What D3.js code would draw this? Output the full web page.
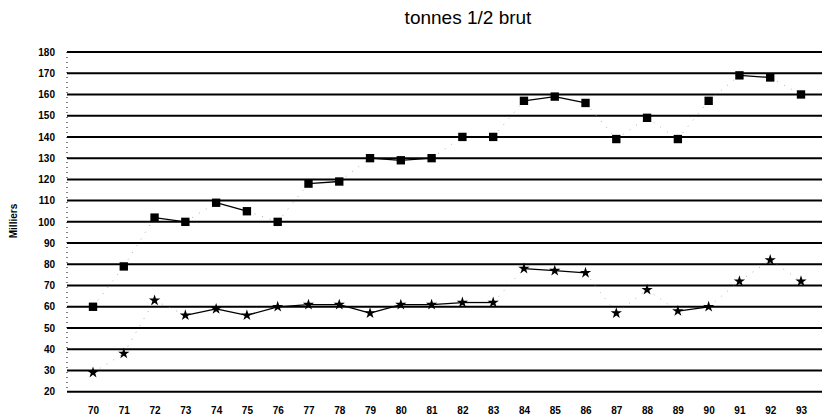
<!DOCTYPE html>
<html>
<head>
<meta charset="utf-8">
<script src="https://cdn.jsdelivr.net/npm/d3@7"></script>
<style>
  body { margin: 0; background: #fff; }
  svg { display: block; font-family: Arial, "Liberation Sans", sans-serif; }
</style>
</head>
<body>
<svg id="chart"></svg>
<script>
const years = ["70","71","72","73","74","75","76","77","78","79","80","81",
  "82","83","84","85","86","87","88","89","90","91","92","93"];
const squareSeries = [60, 79, 102, 100, 109, 105, 100, 118, 119, 130, 129, 130,
  140, 140, 157, 159, 156, 139, 149, 139, 157, 169, 168, 160];
const starSeries = [29, 38, 63, 56, 59, 56, 60, 61, 61, 57, 61, 61,
  62, 62, 78, 77, 76, 57, 68, 58, 60, 72, 82, 72];
const yTicks = [20, 30, 40, 50, 60, 70, 80, 90, 100, 110, 120, 130, 140, 150, 160, 170, 180];

const W = 825, H = 419;
const margin = { top: 52, right: 3, bottom: 27, left: 67 },
  width = W - margin.left - margin.right,
  height = H - margin.top - margin.bottom;

const svg = d3.select("#chart").attr("width", W).attr("height", H);

svg.append("text")
  .attr("x", 468)
  .attr("y", 24)
  .attr("text-anchor", "middle")
  .attr("font-size", "19px")
  .text("tonnes 1/2 brut");

svg.append("text")
  .attr("transform", "translate(17,221) rotate(-90)")
  .attr("text-anchor", "middle")
  .attr("font-size", "10px")
  .attr("font-weight", "bold")
  .text("Milliers");

const g = svg.append("g").attr("transform", `translate(${margin.left},${margin.top})`);

const x = d3.scalePoint().domain(years).range([26, 734]);
const y = d3.scaleLinear().domain([20, 180]).range([height - 0.3, 0]);

// grille
g.append("g")
  .selectAll("line")
  .data(yTicks)
  .enter()
  .append("line")
  .attr("x1", 0)
  .attr("x2", width)
  .attr("y1", (d) => y(d))
  .attr("y2", (d) => y(d))
  .attr("stroke", "#000")
  .attr("stroke-width", 2);

g.append("line")
  .attr("x1", 0).attr("x2", 0)
  .attr("y1", 0).attr("y2", height)
  .attr("stroke", "#000")
  .attr("stroke-width", 1)
  .attr("stroke-dasharray", "1,4");

// axes
const yAxis = g.append("g")
  .call(d3.axisLeft(y).tickValues(yTicks).tickSize(0).tickPadding(12));
yAxis.select(".domain").remove();
yAxis.selectAll("text")
  .attr("font-size", "10px")
  .attr("font-weight", "bold")
  .attr("font-family", "Arial, 'Liberation Sans', sans-serif");

const xAxis = g.append("g")
  .attr("transform", `translate(0,${height})`)
  .call(d3.axisBottom(x).tickSize(0).tickPadding(15));
xAxis.select(".domain").remove();
xAxis.selectAll("text")
  .attr("font-size", "10px")
  .attr("font-weight", "bold")
  .attr("font-family", "Arial, 'Liberation Sans', sans-serif");

// segments : les pentes fortes sont presque effacées sur l'original (photocopie)
function drawSegments(values, cls) {
  const segs = d3.pairs(values.map((v, i) => [years[i], v]));
  g.selectAll("." + cls)
    .data(segs)
    .enter()
    .append("line")
    .attr("class", cls)
    .attr("x1", (d) => x(d[0][0]))
    .attr("y1", (d) => y(d[0][1]))
    .attr("x2", (d) => x(d[1][0]))
    .attr("y2", (d) => y(d[1][1]))
    .attr("stroke", (d) => (Math.abs(d[1][1] - d[0][1]) <= 4 ? "#000" : "#999"))
    .attr("stroke-width", (d) => (Math.abs(d[1][1] - d[0][1]) <= 4 ? 1.3 : 0.8))
    .attr("stroke-dasharray", (d) => (Math.abs(d[1][1] - d[0][1]) <= 4 ? null : "1,7"));
}
drawSegments(squareSeries, "seg-sq");
drawSegments(starSeries, "seg-st");

// marqueurs
g.selectAll(".sq")
  .data(squareSeries)
  .enter()
  .append("path")
  .attr("class", "sq")
  .attr("transform", (d, i) => `translate(${x(years[i])},${y(d)})`)
  .attr("d", d3.symbol(d3.symbolSquare, 70))
  .attr("fill", "#000");

g.selectAll(".st")
  .data(starSeries)
  .enter()
  .append("path")
  .attr("class", "st")
  .attr("transform", (d, i) => `translate(${x(years[i])},${y(d)})`)
  .attr("d", d3.symbol(d3.symbolStar, 40))
  .attr("fill", "#000");
</script>
</body>
</html>
